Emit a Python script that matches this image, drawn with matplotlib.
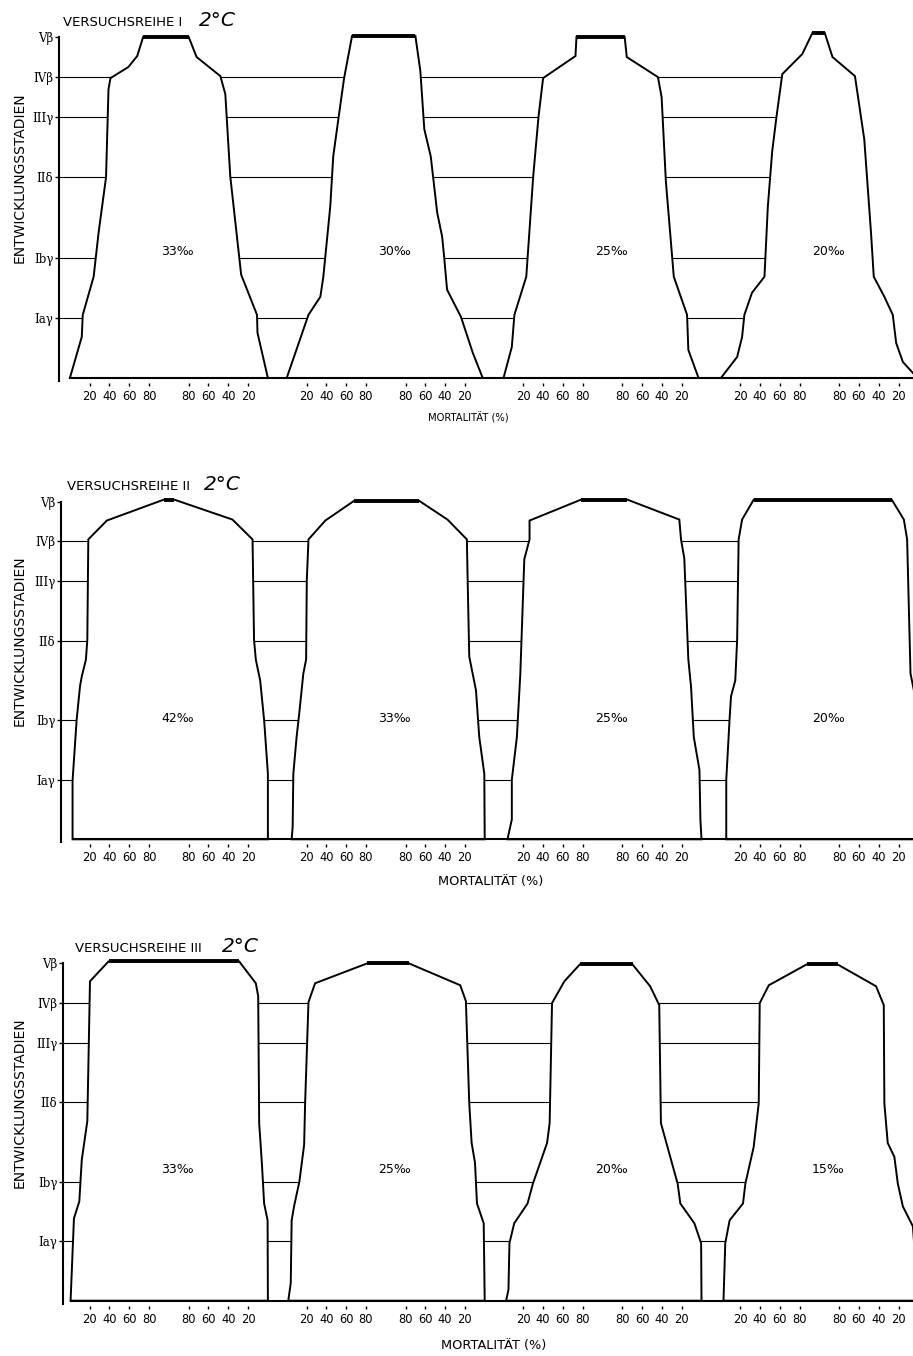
import matplotlib
matplotlib.use("Agg")
import matplotlib.pyplot as plt
from matplotlib.patches import Polygon

# ---------------- data ----------------
STAGE_LABELS = ["Iaγ", "Ibγ", "IIδ", "IIIγ", "IVβ", "Vβ"]
STAGE_POS = [60, 120, 200, 260, 300, 340]
GRID_STAGES = [60, 120, 200, 260, 300]

XTICK_OFFSETS = [20, 40, 60, 80, 120, 140, 160, 180]
XTICK_LABELS = ["20", "40", "60", "80", "80", "60", "40", "20"]

SERIES_TITLES = ["VERSUCHSREIHE I", "VERSUCHSREIHE II", "VERSUCHSREIHE III"]
TEMPERATURE = "2°C"
Y_TITLE = "ENTWICKLUNGSSTADIEN"
X_TITLE = "MORTALITÄT (%)"

# Each outline: left side (stage position, mortality %) from bottom to top,
# right side (stage position, mortality %) from top to bottom.
R1_SALINITY = ["33‰", "30‰", "25‰", "20‰"]
R1_LEFT = [
    [(0, 0), (41, 12), (63, 13), (101, 24), (145, 29), (200, 36.5), (288, 39), (299, 41), (310, 59), (321, 68), (340, 74)],
    [(0, 0), (63, 22), (81, 34), (101, 37), (171, 44), (221, 47), (271, 54), (299, 58), (341, 66)],
    [(0, 0), (31, 8.4), (63, 11), (101, 23), (201, 30), (261, 35.4), (299, 40), (321, 72.7), (340, 73.7)],
    [(0, 0.6), (21, 17), (41, 22), (63, 24.3), (85, 32), (101, 44.6), (171, 48), (226, 52.4), (261, 56.8), (303, 62.6), (323, 82.8), (344, 93)],
]
R1_RIGHT = [
    [(340, 80), (320, 72), (301, 48), (283, 43), (201, 38), (103, 27), (63, 11), (45, 10.5), (0, 0)],
    [(341, 70), (306, 65), (248, 61), (221, 54.5), (165, 48), (141, 43), (121, 41), (88, 38), (61, 24), (25, 12), (0, 2)],
    [(340, 77.6), (320, 75.5), (300, 44), (280, 40.3), (196, 36), (101, 28), (63, 14.6), (28, 13.3), (0, 3)],
    [(344, 94.5), (320, 86.7), (301, 64), (238, 54.6), (145, 47.8), (101, 45), (81, 34.3), (63, 25.8), (35, 22.4), (16, 15.6), (5, 5.5), (0, 0)],
]

R2_SALINITY = ["42‰", "33‰", "25‰", "20‰"]
R2_LEFT = [
    [(0, 2.7), (59, 2.7), (120, 6.8), (154, 10.2), (164, 12), (181, 16.2), (201, 17.6), (302, 18.6), (321, 37.3), (342, 94.7)],
    [(0, 5), (12, 6), (66, 6.7), (103, 10), (127, 12.7), (167, 16.8), (181, 19.6), (261, 20.3), (302, 22), (321, 39), (341, 68.3)],
    [(0, 4), (20, 8.4), (60, 8.4), (103, 13.5), (167, 17), (282, 21), (302, 26.3), (321, 26.3), (342, 78.2)],
    [(0, 6), (60, 6), (120, 9.3), (144, 10.8), (160, 15.1), (201, 17), (302, 18.5), (322, 22), (342, 33.7)],
]
R2_RIGHT = [
    [(342, 94.4), (322, 35.8), (302, 15.5), (201, 14), (181, 12.2), (160, 7.8), (120, 3.8), (66, 0), (0, 0)],
    [(341, 66.4), (322, 37.6), (302, 18), (265, 17.3), (184, 15.6), (150, 8.8), (103, 5.5), (66, 0.4), (0, 0)],
    [(342, 74.8), (322, 22.4), (302, 20.7), (283, 17.4), (181, 13.3), (154, 10.6), (103, 7.8), (70, 2.1), (19, 1.1), (0, 0)],
    [(342, 26.8), (322, 14.6), (302, 11.3), (167, 7.9), (150, 4.5), (100, 2), (0, 0)],
]

R3_SALINITY = ["33‰", "25‰", "20‰", "15‰"]
R3_LEFT = [
    [(0, 0.7), (83, 4.1), (100, 9.5), (142, 12), (181, 17.6), (322, 20.3), (342, 39)],
    [(0, 1.6), (18, 4.1), (81, 5), (95, 7.4), (120, 12.8), (157, 17.6), (199, 18.6), (301, 22), (320, 28.7), (340, 81.2)],
    [(0, 2.6), (11, 5), (58, 6), (78, 10.8), (98, 24.3), (118, 29.7), (159, 44), (179, 46.6), (300, 49), (322, 61.5), (339, 77.1)],
    [(0, 3.2), (58, 5), (81, 9.4), (98, 22.9), (118, 25.3), (155, 33.7), (199, 38.8), (300, 39.8), (318, 49), (339, 87.2)],
]
R3_RIGHT = [
    [(342, 29), (320, 12.2), (307, 9.8), (179, 8.8), (139, 6.1), (98, 3.8), (81, 0.3), (0, 0)],
    [(340, 76.5), (318, 24.7), (302, 19), (199, 15.6), (159, 13.2), (139, 9.8), (98, 7.8), (78, 1), (0, 0)],
    [(339, 69.7), (317, 51.9), (298, 42.7), (179, 41), (145, 31.6), (118, 24.1), (98, 21.4), (78, 7.2), (58, 0.4), (0, 0)],
    [(339, 81.6), (317, 42.7), (298, 34.9), (199, 34.3), (159, 30.9), (145, 24.2), (118, 20.7), (95, 15.6), (75, 5.5), (0, 0)],
]

SERIES = [
    (R1_SALINITY, R1_LEFT, R1_RIGHT),
    (R2_SALINITY, R2_LEFT, R2_RIGHT),
    (R3_SALINITY, R3_LEFT, R3_RIGHT),
]

# ---------------- layout ----------------
W, H = 913, 1356
GROUP_STEP = 219
GROUP_WIDTH = 200
PX_PER_X = 0.99
AX_LEFT_PX = 59
X_MIN = -11
X_MAX = X_MIN + (W - AX_LEFT_PX) / PX_PER_X
Y_MIN, Y_MAX = -5, 352

PANEL_BASE_PX = [378, 839.3, 1300.7]
PANEL_SCALE = [1.003, 0.993, 0.992]
AXIS_X = [-11, -9, -7]
TITLE_PX = [(63, 26, 199), (67, 490, 204), (75, 952, 222)]
LABEL_Y = [126, 122, 132]
XLABEL_PX = [(468, 418, 7.2), (491, 882, 9.3), (494, 1345, 9.3)]

fig = plt.figure(figsize=(W / 100, H / 100), dpi=100)
fig.patch.set_facecolor("white")

for k, (salinity, lefts, rights) in enumerate(SERIES):
    base, s = PANEL_BASE_PX[k], PANEL_SCALE[k]
    bottom_px = base - Y_MIN * s
    height_px = (Y_MAX - Y_MIN) * s
    ax = fig.add_axes([AX_LEFT_PX / W, 1 - bottom_px / H,
                       (W - AX_LEFT_PX) / W, height_px / H])
    ax.set_xlim(X_MIN, X_MAX)
    ax.set_ylim(Y_MIN, Y_MAX)
    ax.set_facecolor("white")

    n = len(salinity)
    offsets = [GROUP_STEP * i for i in range(n)]

    # stage guide lines (hidden inside the white shapes)
    for yv in GRID_STAGES:
        ax.plot([AXIS_X[k], offsets[-1] + GROUP_WIDTH / 2], [yv, yv],
                color="black", lw=0.8, zorder=1, solid_capstyle="butt")

    # baseline
    ax.plot([offsets[0] + lefts[0][0][1], X_MAX + 5], [0, 0],
            color="black", lw=1.5, zorder=3)

    for i in range(n):
        g0 = offsets[i]
        pts = [(g0 + m, yv) for yv, m in lefts[i]]
        pts += [(g0 + GROUP_WIDTH - m, yv) for yv, m in rights[i]]
        poly = Polygon(pts, closed=True, facecolor="white", edgecolor="black",
                       lw=1.4, joinstyle="miter", zorder=2)
        ax.add_patch(poly)
        # heavy top segment
        tl = lefts[i][-1]
        tr = rights[i][0]
        ax.plot([g0 + tl[1], g0 + GROUP_WIDTH - tr[1]], [tl[0], tr[0]],
                color="black", lw=2.8, zorder=3, solid_capstyle="butt")
        ax.text(g0 + 109, LABEL_Y[k], salinity[i], ha="center", va="center",
                fontsize=9, zorder=4)

    # axes styling
    for side in ["top", "right", "bottom"]:
        ax.spines[side].set_visible(False)
    ax.spines["left"].set_position(("data", AXIS_X[k]))
    ax.spines["left"].set_bounds(-3, 340)
    ax.spines["left"].set_linewidth(1.5)

    ax.set_yticks(STAGE_POS)
    ax.set_yticklabels(STAGE_LABELS, fontfamily="DejaVu Serif", fontsize=8.5)
    ax.tick_params(axis="y", direction="out", length=3, width=1, pad=1)

    xt = [g0 + o for g0 in offsets for o in XTICK_OFFSETS]
    xl = XTICK_LABELS * n
    ax.set_xticks(xt)
    ax.set_xticklabels(xl, fontsize=8.3)
    ax.tick_params(axis="x", direction="out", length=2, width=1, pad=3)

    # titles
    tx, ty, tcx = TITLE_PX[k]
    fig.text(tx / W, 1 - ty / H, SERIES_TITLES[k], fontsize=9.5,
             ha="left", va="baseline")
    fig.text(tcx / W, 1 - ty / H, TEMPERATURE, fontsize=14.5, style="italic",
             ha="left", va="baseline")

    # axis titles
    mid_px = base - 200 * s
    fig.text(20 / W, 1 - mid_px / H, Y_TITLE, rotation=90, fontsize=10,
             ha="center", va="center")
    lx, ly, lfs = XLABEL_PX[k]
    fig.text(lx / W, 1 - ly / H, X_TITLE, fontsize=lfs,
             ha="center", va="center")

fig.savefig("out.png", dpi=100, facecolor="white")
